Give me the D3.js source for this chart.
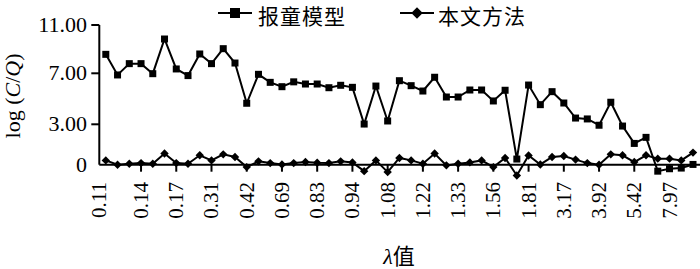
<!DOCTYPE html>
<html>
<head>
<meta charset="utf-8">
<script src="https://cdn.jsdelivr.net/npm/d3@7"></script>
<style>
  body { margin: 0; background: #fff; }
  text { fill: #000; }
</style>
</head>
<body>
<div id="chart"></div>
<script>
// Chart values
const tickLabels = ['0.11', '0.14', '0.17', '0.31', '0.42', '0.69', '0.83', '0.94', '1.08',
    '1.22', '1.33', '1.56', '1.81', '3.17', '3.92', '5.42', '7.97'];
const yTicks = [0, 3, 7, 11];
const seriesNames = ['报童模型', '本文方法'];

const newsboy = [8.57, 6.87, 7.80, 7.80, 6.97, 9.84, 7.36, 6.82, 8.60, 7.80, 9.04, 7.85, 4.65, 6.92, 6.29, 5.95,
    6.33, 6.16, 6.16, 5.87, 6.06, 5.90, 3.02, 6.00, 3.26, 6.42, 6.03, 5.61, 6.69, 5.14, 5.14, 5.69,
    5.69, 4.83, 5.67, 0.42, 6.08, 4.54, 5.56, 4.67, 3.49, 3.42, 2.93, 4.73, 2.87, 1.58, 2.03, -0.48, -0.30, -0.25, 0.02];
const proposed = [0.32, 0.00, 0.07, 0.12, 0.07, 0.83, 0.12, 0.07, 0.70, 0.32, 0.77, 0.57, -0.18, 0.25, 0.12, 0.02,
    0.12, 0.20, 0.15, 0.12, 0.25, 0.17, -0.48, 0.32, -0.55, 0.50, 0.32, 0.07, 0.83, -0.05, 0.07, 0.17,
    0.32, -0.18, 0.50, -0.80, 0.68, 0.02, 0.57, 0.65, 0.38, 0.12, 0.00, 0.77, 0.70, 0.20, 0.70, 0.45, 0.45, 0.32, 0.90];

const width = 700;
const height = 269;
const serif = '"Liberation Serif", "Times New Roman", serif';
const cjk = '"Noto Sans CJK SC", sans-serif';

const svg = d3.select('#chart')
    .append('svg')
    .attr('width', width)
    .attr('height', height);

// Scales
const x = d3.scaleLinear()
    .domain([0, newsboy.length - 1])
    .range([105.8, 693]);

// the reference axis is not evenly spaced between its ticks
const y = d3.scaleLinear()
    .domain(yTicks)
    .range([164.7, 124.3, 73.3, 25]);

const axisLeft = 99.3;

// Y axis
svg.append('line')
    .attr('x1', axisLeft).attr('x2', axisLeft)
    .attr('y1', y(11)).attr('y2', y(0))
    .attr('stroke', '#000').attr('stroke-width', 2);

svg.selectAll('.ytick')
    .data(yTicks.filter(d => d !== 0))
    .enter()
    .append('line')
    .attr('x1', axisLeft - 8).attr('x2', axisLeft)
    .attr('y1', d => y(d)).attr('y2', d => y(d))
    .attr('stroke', '#000').attr('stroke-width', 2);

svg.selectAll('.ylabel')
    .data(yTicks)
    .enter()
    .append('text')
    .attr('x', 87)
    .attr('y', d => y(d) + 7)
    .attr('text-anchor', 'end')
    .style('font-family', serif)
    .style('font-size', '22px')
    .text(d => d === 0 ? '0' : d3.format('.2f')(d));

// X axis at value 0
svg.append('line')
    .attr('x1', axisLeft).attr('x2', width)
    .attr('y1', y(0)).attr('y2', y(0))
    .attr('stroke', '#000').attr('stroke-width', 2);

const labelIdx = tickLabels.map((d, i) => i * 3);

svg.selectAll('.xtick')
    .data(labelIdx.filter(i => i > 0))
    .enter()
    .append('line')
    .attr('x1', d => x(d)).attr('x2', d => x(d))
    .attr('y1', y(0)).attr('y2', y(0) + 7)
    .attr('stroke', '#000').attr('stroke-width', 2);

svg.selectAll('.xlabel')
    .data(tickLabels)
    .enter()
    .append('text')
    .attr('transform', (d, i) => {
        const px = i === 0 ? axisLeft : x(i * 3);
        return `translate(${px + 7},182) rotate(-90)`;
    })
    .attr('text-anchor', 'end')
    .style('font-family', serif)
    .style('font-size', '21px')
    .text(d => d);

// Lines and markers
const line = d3.line()
    .x((d, i) => x(i))
    .y(d => y(d));

const series = [
    { name: seriesNames[0], values: newsboy, shape: 'square' },
    { name: seriesNames[1], values: proposed, shape: 'diamond' }
];

const marker = (sel, shape, size) => {
    if (shape === 'square') {
        sel.append('rect')
            .attr('x', -size / 2).attr('y', -size / 2)
            .attr('width', size).attr('height', size)
            .attr('fill', '#000');
    } else {
        sel.append('path')
            .attr('d', d3.symbol(d3.symbolSquare, size * size * 0.55)())
            .attr('transform', 'rotate(45)')
            .attr('fill', '#000');
    }
};

series.forEach(s => {
    svg.append('path')
        .datum(s.values)
        .attr('d', line)
        .attr('fill', 'none')
        .attr('stroke', '#000')
        .attr('stroke-width', 2);

    svg.selectAll(null)
        .data(s.values)
        .enter()
        .append('g')
        .attr('transform', (d, i) => `translate(${x(i)},${y(d)})`)
        .each(function () { marker(d3.select(this), s.shape, s.shape === 'square' ? 7 : 8); });
});

// Legend
const legend = [
    { x0: 218, tx: 258 },
    { x0: 400, tx: 438 }
];
series.forEach((s, i) => {
    const lg = svg.append('g');
    lg.append('line')
        .attr('x1', legend[i].x0).attr('x2', legend[i].x0 + 34)
        .attr('y1', 13).attr('y2', 13)
        .attr('stroke', '#000').attr('stroke-width', 2);
    const m = lg.append('g').attr('transform', `translate(${legend[i].x0 + 17},13)`);
    marker(m, s.shape, s.shape === 'square' ? 10 : 11);
    lg.append('text')
        .attr('x', legend[i].tx)
        .attr('y', 24)
        .style('font-family', cjk)
        .style('font-size', '21px')
        .style('letter-spacing', '1px')
        .text(s.name);
});

// Axis titles
const yTitle = svg.append('text')
    .attr('transform', 'translate(20,96) rotate(-90)')
    .attr('text-anchor', 'middle')
    .style('font-family', serif)
    .style('font-size', '22px');
yTitle.append('tspan').text('log (');
yTitle.append('tspan').style('font-style', 'italic').text('C');
yTitle.append('tspan').text('/');
yTitle.append('tspan').style('font-style', 'italic').text('Q');
yTitle.append('tspan').text(')');

const xTitle = svg.append('text')
    .attr('x', 399)
    .attr('y', 264)
    .attr('text-anchor', 'middle')
    .style('font-size', '22px');
xTitle.append('tspan').style('font-family', serif).style('font-style', 'italic').text('λ');
xTitle.append('tspan').style('font-family', cjk).text('值');
</script>
</body>
</html>
